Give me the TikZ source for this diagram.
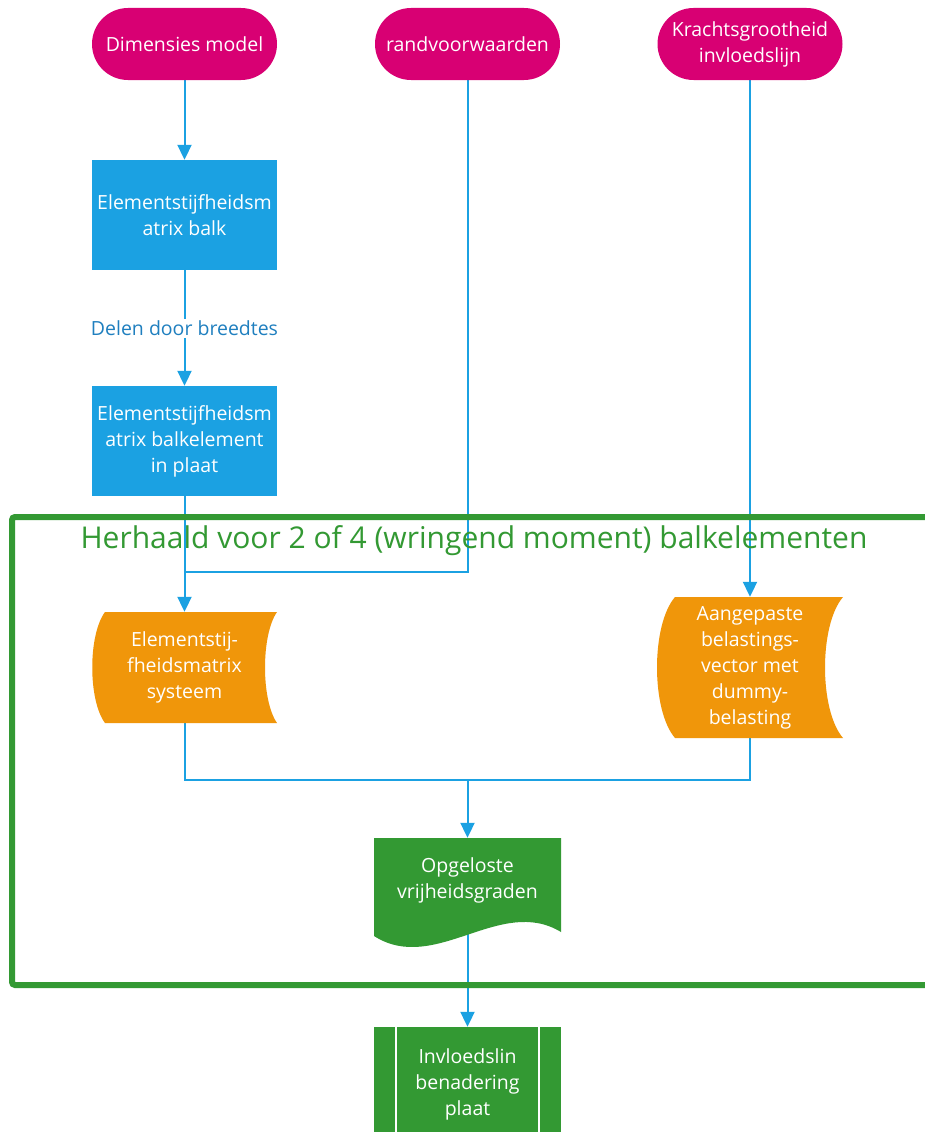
\documentclass[tikz,border=0pt]{standalone}
\usepackage{fontspec}
\setmainfont{Open Sans}
\usetikzlibrary{arrows.meta,calc}
\pgfdeclarelayer{bottom}
\pgfdeclarelayer{background}
\pgfsetlayers{bottom,background,main}
\definecolor{cmag}{HTML}{D80073}
\definecolor{cblue}{HTML}{1BA1E2}
\definecolor{corange}{HTML}{F0960A}
\definecolor{cgreen}{HTML}{339933}
\definecolor{clab}{HTML}{1F7FBF}
\tikzset{
  base/.style={inner sep=0pt, align=center, text=white, font=\fontsize{19.5}{26}\selectfont},
  term/.style={base, rectangle, rounded corners=36pt, fill=cmag, minimum width=185pt, minimum height=72pt},
  proc/.style={base, rectangle, fill=cblue, minimum width=185pt, minimum height=110pt},
  stored/.style={base, rectangle},
  docbox/.style={base, rectangle, minimum width=187pt},
  predef/.style={base, rectangle, fill=cgreen, minimum width=187pt, minimum height=114pt},
  conn/.style={draw=cblue, line width=2pt},
  arr/.style={conn, -{Triangle[width=14pt,length=15pt]}},
  lbl/.style={fill=white, text=clab, inner sep=2pt, font=\fontsize{19.5}{22}\selectfont},
}
\begin{document}
\begin{tikzpicture}[x=1pt,y=-1pt]
\useasboundingbox (0,0) rectangle (925,1132);
\begin{pgfonlayer}{bottom}
\fill[white] (0,0) rectangle (925,1132);
\end{pgfonlayer}

% frame
\draw[cgreen, line width=6pt, rounded corners=3pt] (12,517) rectangle (940,985);
\node[text=cgreen, font=\fontsize{30}{32}\selectfont, inner sep=0pt] (title) at (474,541) {Herhaald voor 2 of 4 (wringend moment) balkelementen};

% terminals
\node[term] (dm) at (184.5,44) {Dimensies model};
\node[term] (rv) at (467.5,44) {randvoorwaarden};
\node[term] (kg) at (750,44) {Krachtsgrootheid\\invloedslijn};

% processes
\node[proc] (r1) at (184.5,215) {Elementstijfheidsm\\atrix balk};
\node[proc] (r2) at (184.5,441) {Elementstijfheidsm\\atrix balkelement\\in plaat};

% stored data shapes
\fill[corange] (105,612) -- (277,612) .. controls (261,635) and (261,700) .. (277,723)
  -- (105,723) .. controls (88,700) and (88,635) .. (105,612) -- cycle;
\node[stored, minimum width=185pt, minimum height=111pt] (o1) at (184.5,667.5) {Elementstij-\\fheidsmatrix\\systeem};
\fill[corange] (675,597) -- (843,597) .. controls (819,625) and (819,710) .. (843,738)
  -- (675,738) .. controls (651,710) and (651,625) .. (675,597) -- cycle;
\node[stored, minimum width=186pt, minimum height=141pt] (o2) at (750,667.5) {Aangepaste\\belastings-\\vector met\\dummy-\\belasting};

% document
\fill[cgreen] (374,838) -- (561,838) -- (561,932) .. controls (500,895) and (435,975) .. (374,936) -- cycle;
\node[docbox, minimum height=84pt] (doc) at (467.5,880) {Opgeloste\\vrijheidsgraden};

% predefined process
\node[predef] (pp) at (467.5,1084) {Invloedslin\\benadering\\plaat};
\draw[white, line width=2pt] (396,1027) -- (396,1141) (539,1027) -- (539,1141);

\coordinate (j1) at (184.5,572);
\coordinate (j2) at (467.5,780);

\begin{pgfonlayer}{background}
\draw[arr] (dm.south) -- (r1.north);
\draw[arr] (r1.south) -- node[lbl] (lab) {Delen door breedtes} (r2.north);
\draw[arr] (r2.south) -- (o1.north);
\draw[conn] (rv.south) |- (j1);
\draw[arr] (kg.south) -- (o2.north);
\draw[conn] (o1.south) |- (j2);
\draw[conn] (o2.south) |- (j2);
\draw[arr] (j2) -- (doc.north);
\draw[arr] (doc.south) -- (pp.north);
\end{pgfonlayer}
\end{tikzpicture}
\end{document}
